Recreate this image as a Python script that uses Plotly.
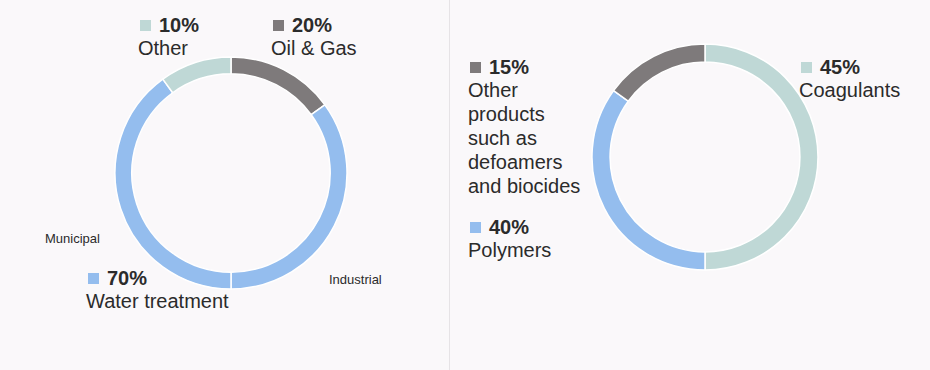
import plotly.graph_objects as go

W, H = 930, 370
BG = "#faf8fa"
TEAL = "#bfd8d6"
GREY = "#7e7a7b"
BLUE = "#94bdee"
TXT = "#2b2b2b"

# Left donut: end markets (slices as drawn)
left_labels = ["Oil & Gas", "Industrial", "Municipal", "Other"]
left_values = [15, 35, 40, 10]
left_colors = [GREY, BLUE, BLUE, TEAL]

# Right donut: product mix (slices as drawn)
right_labels = ["Coagulants", "Polymers", "Other products"]
right_values = [50, 35, 15]
right_colors = [TEAL, BLUE, GREY]

# Callout texts
left_callouts = [("10%", ["Other"], TEAL), ("20%", ["Oil & Gas"], GREY), ("70%", ["Water treatment"], BLUE)]
right_callouts = [("15%", ["Other", "products", "such as", "defoamers", "and biocides"], GREY),
                  ("40%", ["Polymers"], BLUE), ("45%", ["Coagulants"], TEAL)]
sub_labels = ["Municipal", "Industrial"]


def px_x(x):
    return x / W


def px_y(y):
    return 1 - y / H


fig = go.Figure()
fig.add_trace(go.Pie(
    labels=left_labels, values=left_values, sort=False, direction="clockwise", rotation=0,
    hole=0.855, marker=dict(colors=left_colors, line=dict(color="white", width=1.5)),
    textinfo="none", hoverinfo="label+value", showlegend=False,
    domain=dict(x=[px_x(115), px_x(347)], y=[px_y(289), px_y(57)]),
))
fig.add_trace(go.Pie(
    labels=right_labels, values=right_values, sort=False, direction="clockwise", rotation=0,
    hole=0.84, marker=dict(colors=right_colors, line=dict(color="white", width=1.5)),
    textinfo="none", hoverinfo="label+value", showlegend=False,
    domain=dict(x=[px_x(592), px_x(818)], y=[px_y(270), px_y(44)]),
))

ann = []
shapes = []
FONT = "Liberation Sans, Arial, sans-serif"


def callout(x, y, pct, lines, color):
    # square marker
    shapes.append(dict(type="rect", xref="paper", yref="paper",
                       x0=px_x(x + 2), x1=px_x(x + 13), y0=px_y(y + 6), y1=px_y(y - 5),
                       fillcolor=color, line=dict(width=0)))
    ann.append(dict(x=px_x(x + 19), y=px_y(y), xref="paper", yref="paper", text="<b>%s</b>" % pct,
                    showarrow=False, xanchor="left", yanchor="middle",
                    font=dict(family=FONT, size=20, color=TXT)))
    for i, ln in enumerate(lines):
        ann.append(dict(x=px_x(x - 2), y=px_y(y + 23 + 24 * i), xref="paper", yref="paper", text=ln,
                        showarrow=False, xanchor="left", yanchor="middle",
                        font=dict(family=FONT, size=20, color=TXT)))


left_pos = [(138, 25), (271, 25), (86, 278)]
right_pos = [(468, 67), (468, 227), (799, 67)]
for (x, y), (p, l, c) in zip(left_pos, left_callouts):
    callout(x, y, p, l, c)
for (x, y), (p, l, c) in zip(right_pos, right_callouts):
    callout(x, y, p, l, c)

for (x, y), t in zip([(43, 238), (327, 279)], sub_labels):
    ann.append(dict(x=px_x(x), y=px_y(y), xref="paper", yref="paper", text=t, showarrow=False,
                    xanchor="left", yanchor="middle", font=dict(family=FONT, size=13, color=TXT)))

# divider
shapes.append(dict(type="line", xref="paper", yref="paper", x0=px_x(449.5), x1=px_x(449.5), y0=0, y1=1,
                   line=dict(color="#e6e3e6", width=1)))

fig.update_layout(width=W, height=H, margin=dict(l=0, r=0, t=0, b=0),
                  paper_bgcolor=BG, plot_bgcolor=BG, annotations=ann, shapes=shapes)
fig.write_html("out.html", config={"displayModeBar": False},
               post_script="document.body.style.margin='0';document.body.style.padding='0';"
                           "document.body.style.background='%s';document.body.style.overflow='hidden';" % BG)
